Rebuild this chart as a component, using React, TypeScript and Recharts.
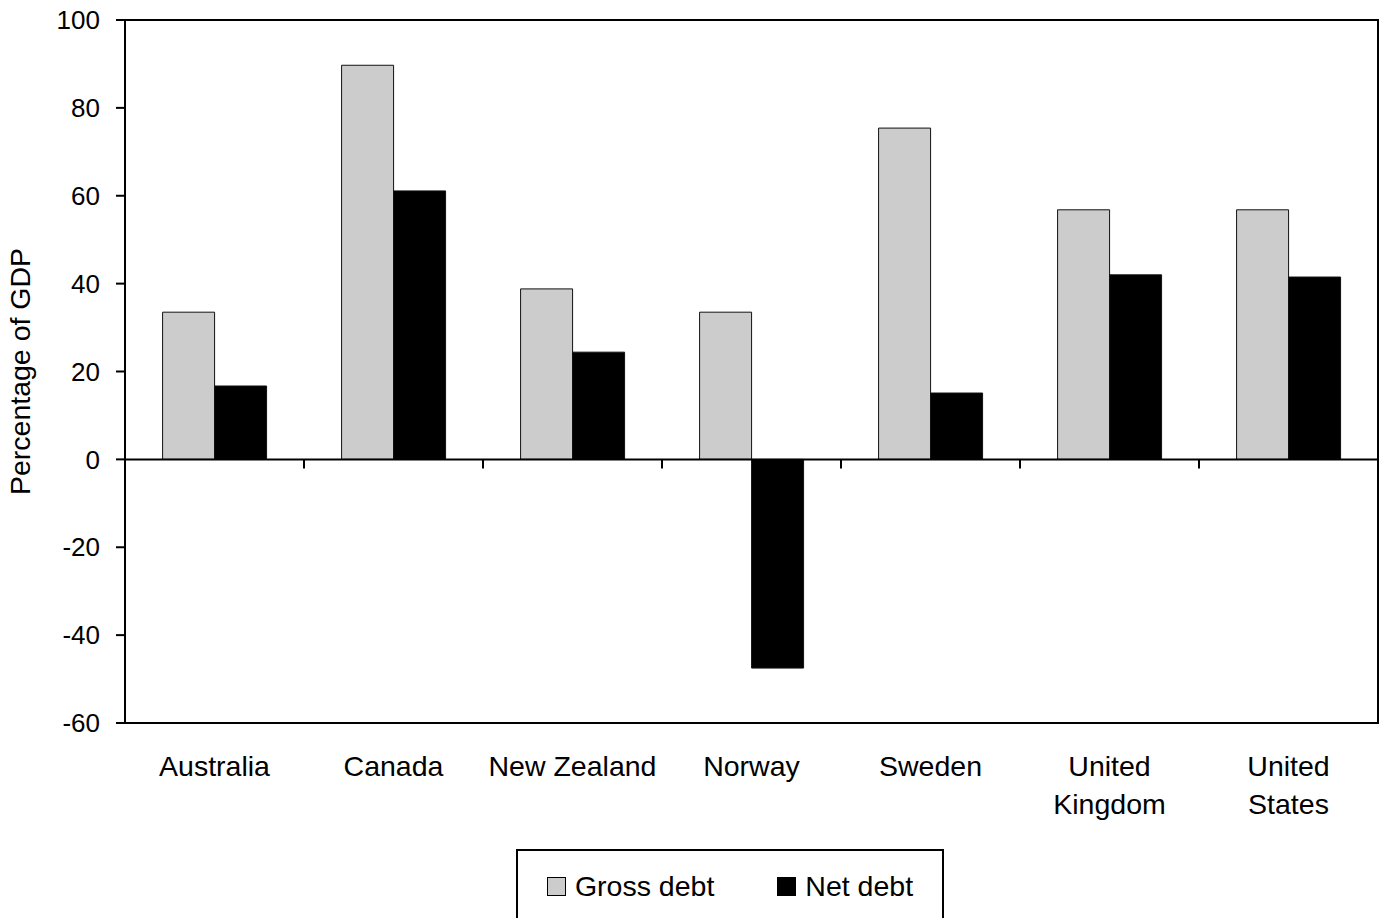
import { BarChart, Bar, XAxis, YAxis, Legend, ReferenceLine, ReferenceArea } from "recharts";

const countries = [
  "Australia",
  "Canada",
  "New Zealand",
  "Norway",
  "Sweden",
  "United\nKingdom",
  "United\nStates",
];
const grossDebt = [33.5, 89.7, 38.8, 33.5, 75.4, 56.8, 56.8];
const netDebt = [16.7, 61.1, 24.4, -47.5, 15.1, 42.0, 41.5];
const yTicks = [-60, -40, -20, 0, 20, 40, 60, 80, 100];

const data = countries.map((name, i) => ({ name, gross: grossDebt[i], net: netDebt[i] }));

const FONT = '"Liberation Sans", Arial, Helvetica, sans-serif';

// two-line category labels under the frame
const CountryTick = (props: any) => {
  const { x, y, payload } = props;
  const lines = String(payload.value).split("\n");
  return (
    <text x={x} y={y} textAnchor="middle" fontSize={28.5} fill="#000" fontFamily={FONT}>
      {lines.map((l, i) => (
        <tspan key={i} x={x} dy={i === 0 ? 53 : 38}>
          {l}
        </tspan>
      ))}
    </text>
  );
};

// zero line with small down ticks between the countries
const ZeroLine = (props: any) => {
  const { x1, x2, y1 } = props;
  const step = (x2 - x1) / countries.length;
  const marks = countries.slice(1).map((_, i) => x1 + step * (i + 1));
  return (
    <g>
      <line x1={x1} y1={y1} x2={x2} y2={y1} stroke="#000" strokeWidth={2} />
      {marks.map((mx, i) => (
        <line key={i} x1={mx} y1={y1} x2={mx} y2={y1 + 9} stroke="#000" strokeWidth={2} />
      ))}
    </g>
  );
};

const LegendBox = (props: any) => {
  const { payload = [] } = props;
  return (
    <div
      style={{
        boxSizing: "border-box",
        width: 428,
        height: 80,
        border: "2px solid #000",
        borderBottom: "none",
        display: "flex",
        justifyContent: "center",
        gap: 63,
        paddingTop: 19,
        fontFamily: FONT,
        fontSize: 28.5,
        color: "#000",
      }}
    >
      {payload.map((p: any) => (
        <div key={p.value} style={{ display: "flex", alignItems: "center", height: 32 }}>
          <span
            style={{
              display: "inline-block",
              width: 17,
              height: 17,
              background: p.color,
              border: "1px solid #000",
              marginRight: 9,
            }}
          />
          {p.value}
        </div>
      ))}
    </div>
  );
};

export default function App() {
  return (
    <div style={{ position: "absolute", left: 0, top: 0 }}>
      <BarChart
        width={1381}
        height={918}
        data={data}
        margin={{ top: 20, right: 3, bottom: 165, left: 0 }}
        barCategoryGap="21%"
        barGap={0}
        style={{ fontFamily: FONT }}
      >
        {/* plot frame */}
        <ReferenceArea y1={-60} y2={100} fill="none" fillOpacity={0} stroke="#000" strokeWidth={2} />
        <XAxis
          dataKey="name"
          interval={0}
          tickLine={false}
          tickSize={0}
          tickMargin={0}
          height={30}
          axisLine={{ stroke: "#000", strokeWidth: 2 }}
          tick={<CountryTick />}
        />
        <YAxis
          width={125}
          domain={[-60, 100]}
          ticks={yTicks}
          interval={0}
          tickSize={9}
          tickMargin={16}
          axisLine={{ stroke: "#000", strokeWidth: 2 }}
          tickLine={{ stroke: "#000", strokeWidth: 2 }}
          tick={{ fontSize: 26, fill: "#000", fontFamily: FONT }}
          label={{
            value: "Percentage of GDP",
            angle: -90,
            position: "insideLeft",
            offset: 20,
            style: { textAnchor: "middle", fontSize: 28.5, fill: "#000", fontFamily: FONT },
          }}
        />
        <Bar dataKey="gross" name="Gross debt" fill="#cccccc" stroke="#111" strokeWidth={1} isAnimationActive={false} />
        <Bar dataKey="net" name="Net debt" fill="#000000" stroke="#111" strokeWidth={1} isAnimationActive={false} />
        <ReferenceLine y={0} shape={<ZeroLine />} />
        <Legend
          layout="vertical"
          align="center"
          verticalAlign="middle"
          content={<LegendBox />}
          wrapperStyle={{ left: 516, top: 849, width: 428, bottom: "auto" }}
        />
      </BarChart>
    </div>
  );
}
